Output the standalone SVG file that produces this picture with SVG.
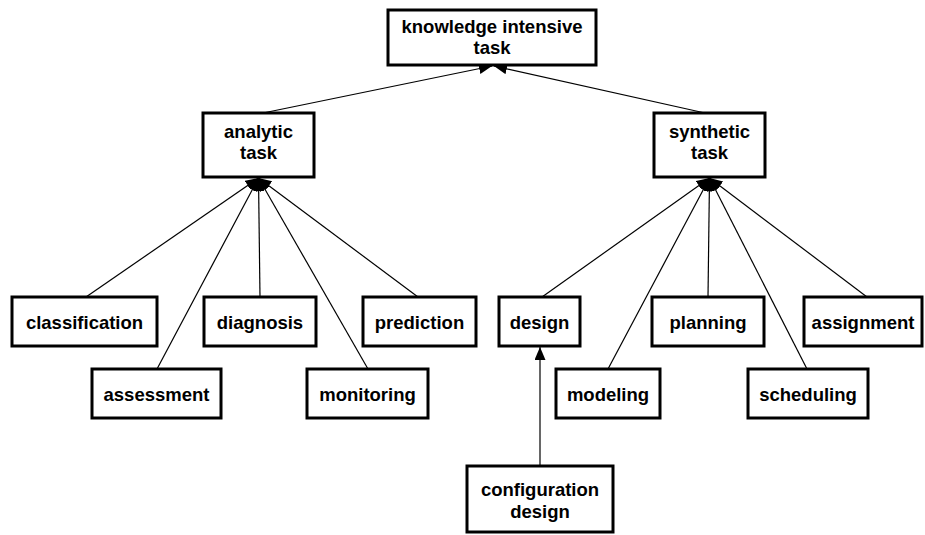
<svg xmlns="http://www.w3.org/2000/svg" width="925" height="535" viewBox="0 0 925 535">
<style>
.box{fill:#fff;stroke:#000;stroke-width:3}
.t{font-family:"Liberation Sans",Arial,sans-serif;font-weight:bold;font-size:18.5px;text-anchor:middle;fill:#000}
.c{fill:none;stroke:#000;stroke-width:1.2;marker-end:url(#ah)}
</style>
<defs>
<marker id="ah" markerUnits="userSpaceOnUse" markerWidth="14" markerHeight="12" refX="13" refY="5.5" orient="auto">
<path d="M0,0 L13,5.5 L0,11 Z" fill="#000"/>
</marker>
</defs>
<g id="connectors">
<line class="c" x1="263" y1="113" x2="492" y2="66"/>
<line class="c" x1="705" y1="113" x2="494" y2="66"/>
<line class="c" x1="86" y1="297" x2="258.5" y2="178"/>
<line class="c" x1="157" y1="369" x2="258.5" y2="178"/>
<line class="c" x1="260" y1="297" x2="258.5" y2="178"/>
<line class="c" x1="368" y1="369" x2="258.5" y2="178"/>
<line class="c" x1="418" y1="297" x2="258.5" y2="178"/>
<line class="c" x1="542" y1="297" x2="709.5" y2="178"/>
<line class="c" x1="608" y1="369" x2="709.5" y2="178"/>
<line class="c" x1="708" y1="297" x2="709.5" y2="178"/>
<line class="c" x1="807" y1="369" x2="709.5" y2="178"/>
<line class="c" x1="867" y1="297" x2="709.5" y2="178"/>
<line class="c" x1="540" y1="466" x2="540" y2="347"/>
</g>
<g id="knowledge-intensive-task"><rect class="box" x="388" y="10" width="208" height="55"/><text class="t" x="492" y="33">knowledge intensive</text><text class="t" x="492" y="54">task</text></g>
<g id="analytic-task"><rect class="box" x="203" y="113" width="111" height="64"/><text class="t" x="258.5" y="138">analytic</text><text class="t" x="258.5" y="159">task</text></g>
<g id="synthetic-task"><rect class="box" x="654" y="113" width="111" height="64"/><text class="t" x="709.5" y="138">synthetic</text><text class="t" x="709.5" y="159">task</text></g>
<g id="classification"><rect class="box" x="12" y="297" width="145" height="49"/><text class="t" x="84.5" y="328.5">classification</text></g>
<g id="diagnosis"><rect class="box" x="204" y="297" width="112" height="49"/><text class="t" x="260" y="328.5">diagnosis</text></g>
<g id="prediction"><rect class="box" x="363" y="297" width="113" height="49"/><text class="t" x="419.5" y="328.5">prediction</text></g>
<g id="assessment"><rect class="box" x="92" y="369" width="129" height="49"/><text class="t" x="156.5" y="400.5">assessment</text></g>
<g id="monitoring"><rect class="box" x="307" y="369" width="121" height="49"/><text class="t" x="367.5" y="400.5">monitoring</text></g>
<g id="design"><rect class="box" x="499" y="297" width="81" height="49"/><text class="t" x="539.5" y="328.5">design</text></g>
<g id="planning"><rect class="box" x="652" y="297" width="112" height="49"/><text class="t" x="708" y="328.5">planning</text></g>
<g id="assignment"><rect class="box" x="804" y="297" width="118" height="49"/><text class="t" x="863" y="328.5">assignment</text></g>
<g id="modeling"><rect class="box" x="556" y="369" width="104" height="49"/><text class="t" x="608" y="400.5">modeling</text></g>
<g id="scheduling"><rect class="box" x="748" y="369" width="120" height="49"/><text class="t" x="808" y="400.5">scheduling</text></g>
<g id="configuration-design"><rect class="box" x="467" y="466" width="146" height="66"/><text class="t" x="540" y="496">configuration</text><text class="t" x="540" y="518">design</text></g>
</svg>
